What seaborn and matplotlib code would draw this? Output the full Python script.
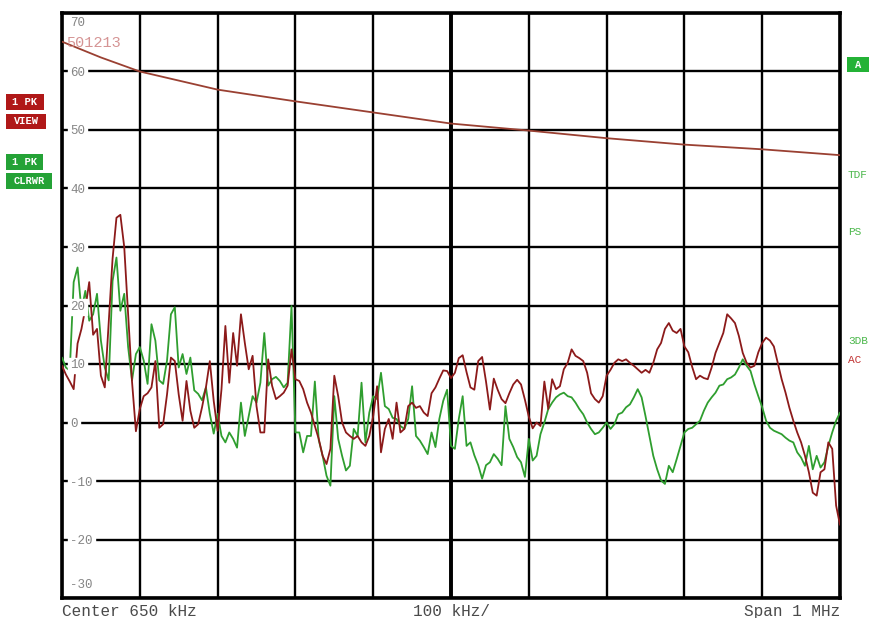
import numpy as np
import pandas as pd
import matplotlib
matplotlib.use("Agg")
import matplotlib.pyplot as plt
import seaborn as sns
from matplotlib import transforms
from matplotlib.patches import Rectangle

# analyzer settings
center_khz = 650
span_khz = 1000
step_khz = 5          # one reading every 5 kHz along the sweep
ref_top_db = 70
ref_bottom_db = -30
db_per_div = 10

# sweep points 150 .. 1150 kHz
freq_khz = np.arange(center_khz - span_khz / 2, center_khz + span_khz / 2 + 1, step_khz)

# trace 1 (1 PK VIEW, red), dB
trace1_db = [
    9.7, 8.2, 7.0, 5.7, 13.5, 16.0, 19.5, 24.0, 15.0, 16.0,
    8.0, 6.0, 17.0, 28.0, 35.0, 35.5, 30.0, 18.5, 7.0, -1.5,
    2.3, 4.5, 5.0, 6.0, 10.5, -0.9, -0.3, 4.8, 11.1, 10.5,
    4.8, 0.3, 7.1, 2.0, -0.9, -0.3, 2.6, 6.0, 10.5, 3.7,
    -1.4,
    5.7, 16.5, 6.8, 15.3, 9.7, 18.5, 13.6, 9.1, 11.4, 2.8,
    -1.7, -1.7, 10.8, 6.3, 4.0, 4.5, 5.1, 6.3, 12.5, 7.4,
    7.1, 5.7, 3.4, 1.7, -0.6, -2.8, -5.7, -7.1, -4.5, 8.0,
    4.5,
    0.0, -1.7, -2.3, -2.8, -2.3, -3.4, -4.0, -2.3, 1.1,
    6.2, -5.1, -1.1, 0.6, -2.8, 3.4, -1.7, -1.1, 2.8, 3.4,
    2.5, 2.8, 1.7, 1.1, 5.0, 6.0, 7.5, 8.9, 8.8, 7.6,
    8.5, 11.0, 11.5, 8.6, 6.0, 5.6, 10.5, 11.2, 7.0, 2.2,
    7.5, 5.6, 4.0, 3.3, 5.0, 6.5, 7.3, 6.5, 3.9,
    1.0, -1.0, 0.0, -0.6, 7.0, 2.3, 7.4, 5.7, 6.2, 9.1,
    10.2, 12.5, 11.4, 11.0, 10.5, 8.5, 5.0, 4.0, 3.4, 4.5,
    8.0, 9.0, 10.2, 10.8, 10.5, 10.8, 10.2, 9.7, 9.1, 8.5,
    9.0, 8.5, 10.2, 12.5, 13.6, 16.0, 17.0, 15.7, 15.3, 16.0,
    13.0,
    12.0, 9.5, 7.4, 8.0, 7.6, 7.4, 9.4, 11.9, 13.6, 15.3,
    18.5, 17.8, 17.0, 14.8, 11.9, 10.2, 9.4, 9.7, 12.0, 13.6,
    14.5, 14.0, 13.0, 10.2, 7.4, 5.1, 2.5, 0.3, -1.7, -3.4,
    -5.7, -8.5, -12.0, -12.5, -8.5, -8.0, -3.4, -4.5, -14.2, -17.5,
]

# trace 2 (1 PK CLRWR, green)
trace2_db = [
    11.1, 9.4, 8.9, 24.0, 26.5, 19.1, 22.5, 17.4, 18.5, 22.0,
    14.0, 9.4, 7.2, 24.2, 28.2, 19.1, 22.0, 12.9, 7.2, 11.7,
    12.9, 10.6, 6.6, 16.8, 14.0, 7.2, 6.6, 10.6, 18.5, 19.7,
    9.4, 11.7, 8.3, 11.1, 5.5, 4.9, 3.8, 6.0, 1.5, -1.9,
    1.5,
    -2.3, -3.4, -1.7, -2.8, -4.3, 3.4, -2.3, 1.1, 4.5, 3.4,
    6.8, 15.3, 6.3, 7.4, 7.8, 7.1, 6.0, 6.8, 19.9, -1.7,
    -1.7, -5.1, -2.3, -2.3, 7.0, -3.0, -5.7, -9.1, -10.8, 4.5,
    -2.8, -5.7, -8.2, -7.4, -1.1, -2.3, 6.8, -3.4, 1.7, 4.5,
    4.0, 8.5, 2.8, 2.3, 0.8, 0.6, -0.6, -1.1, 0.6, 6.2,
    -2.3, -3.1, -4.2, -5.4, -1.7, -4.2, 0.6, 3.7, 5.6, -4.0,
    -4.5, 0.6, 4.5, -4.0, -3.4, -5.6, -7.3, -9.6, -7.3, -6.8,
    -5.4, -6.2, -7.3, 2.8, -2.8, -4.2, -5.9, -6.8, -9.3,
    -2.8, -6.5, -5.7, -2.0, 0.0, 2.3, 3.4, 4.3, 4.8, 5.1,
    4.5, 4.3, 3.4, 2.3, 1.4, 0.0, -1.1, -2.0, -1.7, -0.9,
    0.0, -1.1, -0.3, 1.4, 1.7, 2.6, 3.1, 4.3, 5.7, 4.3,
    1.1, -2.3, -5.7, -8.0, -9.9, -10.5, -7.4, -8.5, -6.3, -4.0,
    -1.7,
    -1.1, -0.9, -0.3, 0.3, 2.0, 3.4, 4.3, 5.1, 6.3, 6.5,
    7.4, 7.7, 8.2, 9.4, 10.8, 9.7, 8.8, 6.5, 4.5, 2.6,
    0.3, -0.9, -1.4, -1.7, -2.0, -2.6, -3.1, -3.4, -5.1, -6.0,
    -7.4, -4.0, -8.0, -5.7, -7.7, -6.8, -4.0, -1.7, 0.3, 1.7,
]

# limit line
limit_khz = [150, 200, 250, 350, 450, 550, 650, 750, 850, 950, 1050, 1150]
limit_db = [65.1, 62.4, 60.0, 56.9, 54.9, 53.0, 51.1, 49.9, 48.6, 47.5, 46.7, 45.7]

red = '#8c1a1a'
green = '#2f9e2f'

sns.set_style("white")
plt.rcParams['font.family'] = ['Liberation Mono', 'DejaVu Sans Mono']

fig = plt.figure(figsize=(8.7, 6.18), dpi=100)
ax = fig.add_axes([62 / 870, 20 / 618, 778 / 870, 585 / 618])

df = pd.DataFrame({'freq': freq_khz, 'trace1': trace1_db, 'trace2': trace2_db})
sns.lineplot(data=df, x='freq', y='trace2', ax=ax, color=green, lw=1.3, zorder=3)
sns.lineplot(data=df, x='freq', y='trace1', ax=ax, color=red, lw=1.3, zorder=4)
sns.lineplot(x=limit_khz, y=limit_db, ax=ax, color='#9a4032', lw=1.3, zorder=5)

# graticule
ax.set_xlim(freq_khz[0], freq_khz[-1])
ax.set_ylim(ref_bottom_db, ref_top_db)
ax.set_xticks(np.arange(freq_khz[0], freq_khz[-1] + 1, span_khz / 10))
ax.set_yticks(np.arange(ref_bottom_db, ref_top_db + 1, db_per_div))
ax.grid(True, color='black', lw=1.7)
ax.set_axisbelow(True)
ax.axvline(center_khz, color='black', lw=2.8, zorder=1)
ax.tick_params(length=0, labelbottom=False, labelleft=False)
ax.set_xlabel('')
ax.set_ylabel('')
for s in ax.spines.values():
    s.set_color('black')
    s.set_linewidth(2.6)

# level labels inside the grid
trans = transforms.blended_transform_factory(ax.transAxes, ax.transData)
for v in range(ref_top_db - db_per_div, ref_bottom_db, -db_per_div):
    ax.text(0.0105, v, str(v), transform=trans, va='center_baseline', ha='left', fontsize=9,
            color='#858585', zorder=10,
            bbox=dict(facecolor='white', edgecolor='white', boxstyle='square,pad=0.15'))
ax.text(0.0105, ref_top_db, str(ref_top_db), fontsize=9, color='#858585', va='top', ha='left',
        transform=transforms.offset_copy(trans, fig, y=-3, units='points'))
ax.text(0.0105, ref_bottom_db, str(ref_bottom_db), fontsize=9, color='#858585', va='bottom', ha='left',
        transform=transforms.offset_copy(trans, fig, y=5, units='points'))
ax.text(0.005, 0.949, '501213', transform=ax.transAxes, fontsize=11, color='#d59494',
        va='center', ha='left', zorder=6)


def tag(x0, y0, w, h, label, color):
    fig.add_artist(Rectangle((x0 / 870, 1 - (y0 + h) / 618), w / 870, h / 618,
                             transform=fig.transFigure, facecolor=color, edgecolor='none'))
    fig.text((x0 + w / 2) / 870, 1 - (y0 + h / 2) / 618, label, color='white',
             fontsize=7.5, fontweight='bold', ha='center', va='center')


tag(6, 94, 38, 16, '1 PK', '#b01818')
tag(6, 114, 40, 15, 'VIEW', '#b01818')
tag(6, 154, 37, 16, '1 PK', '#24a236')
tag(6, 173, 46, 16, 'CLRWR', '#24a236')
tag(847, 57, 23, 15, 'A', '#24b236')

for label, yy, col in [('TDF', 175, '#4cb84c'), ('PS', 232, '#4cb84c'),
                       ('3DB', 341, '#4cb84c'), ('AC', 360, '#c03030')]:
    fig.text(848 / 870, 1 - yy / 618, label, fontsize=8, color=col, ha='left', va='center')

base_y = 1 - 616 / 618
fig.text(62 / 870, base_y, f'Center {center_khz} kHz', fontsize=11.5, color='#4a4a4a',
         ha='left', va='baseline')
fig.text(452 / 870, base_y, f'{int(span_khz / 10)} kHz/', fontsize=11.5, color='#4a4a4a',
         ha='center', va='baseline')
fig.text(840 / 870, base_y, f'Span {int(span_khz / 1000)} MHz', fontsize=11.5, color='#4a4a4a',
         ha='right', va='baseline')

fig.savefig('out.png', dpi=100)
